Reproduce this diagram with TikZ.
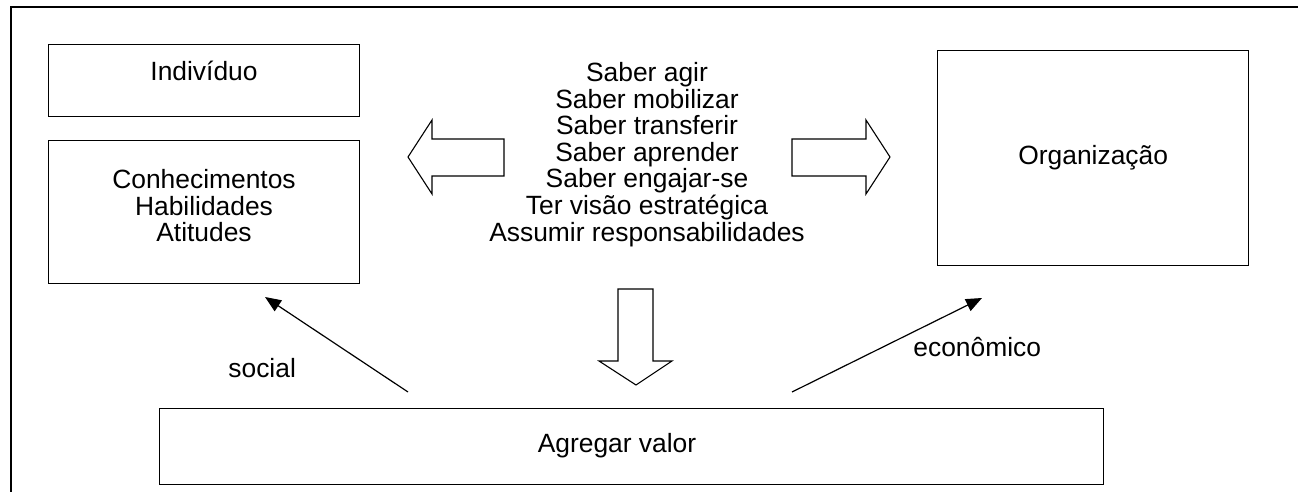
\documentclass[tikz,border=0pt]{standalone}
\usepackage{fontspec}
\setmainfont{Liberation Sans}
\usetikzlibrary{positioning,arrows.meta}
\tikzset{
  caixa/.style={draw, line width=0.7pt, anchor=north west, inner sep=0pt},
  texto/.style={align=center, inner sep=0pt, font=\fontsize{13.2}{13.3}\selectfont},
  seta/.style={-{Triangle[length=8pt,width=6.5pt]}, line width=0.6pt},
  bloco/.style={draw, line width=0.55pt, line join=miter}
}
\begin{document}
\begin{tikzpicture}[x=0.5pt,y=-0.5pt]
  \useasboundingbox (0,0) rectangle (1298,492);
  % moldura
  \draw[line width=1.1pt] (11,492) -- (11,7) -- (1298,7);

  % caixas
  \node[caixa, minimum width=155.5pt, minimum height=36pt] (individuo) at (48,44) {};
  \node[caixa, minimum width=155.5pt, minimum height=71.5pt] (cha) at (48,140) {};
  \node[caixa, minimum width=155.5pt, minimum height=107.5pt] (organizacao) at (937,50) {};
  \node[caixa, minimum width=472pt, minimum height=38pt] (agregar) at (159,408) {};

  \node[texto, anchor=north] (tind) at (204,61) {Indivíduo};
  \node[texto, anchor=north] (tcha) at (204,169) {Conhecimentos\\Habilidades\\Atitudes};
  \node[texto] (torg) at (organizacao.center) {Organização};
  \node[texto] (tagr) at (617,446) {Agregar valor};
  \node[texto, anchor=north] (saberes) at (647,62) {Saber agir\\Saber mobilizar\\Saber transferir\\Saber aprender\\Saber engajar-se\\Ter visão estratégica\\Assumir responsabilidades};

  % setas largas
  \draw[bloco] (408,157) -- (432,120) -- (432,139) -- (504,139) -- (504,176) -- (432,176) -- (432,194) -- cycle;
  \draw[bloco] (890,157) -- (866,120) -- (866,139) -- (792,139) -- (792,176) -- (866,176) -- (866,194) -- cycle;
  \draw[bloco] (636,385) -- (599,361) -- (618,361) -- (618,289) -- (653,289) -- (653,361) -- (672,361) -- cycle;

  % setas finas
  \coordinate (s0) at (408,392);
  \coordinate (s1) at (265,297);
  \coordinate (e0) at (792,392);
  \coordinate (e1) at (982,298);
  \draw[seta] (s0) -- (s1);
  \draw[seta] (e0) -- (e1);
  \node[texto, anchor=base west] (social) at (228,378) {social};
  \node[texto, anchor=base west] (economico) at (913,357) {econômico};
\end{tikzpicture}
\end{document}
